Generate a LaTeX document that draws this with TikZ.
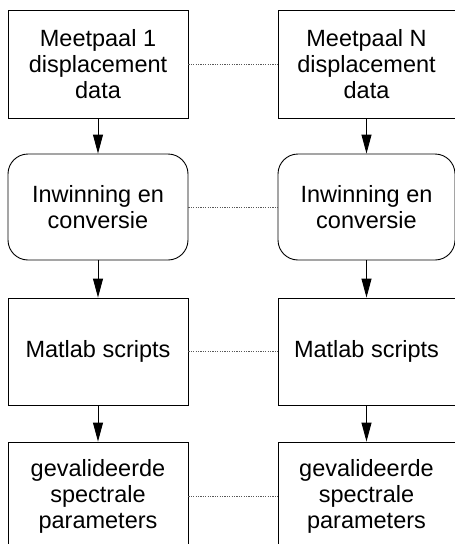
\documentclass[tikz,border=0pt]{standalone}
\usepackage{fontspec}
\setmainfont{Liberation Sans}
\usetikzlibrary{arrows.meta}
\tikzset{
  box/.style={draw, line width=0.9pt, align=center, inner sep=0pt,
    font=\fontsize{23.5}{26}\selectfont},
  rbox/.style={box, rounded corners=20pt},
  flow/.style={line width=0.9pt, -{Triangle[length=19pt,width=10pt]}},
  link/.style={line width=0.7pt, gray!70!black, dash pattern=on 1.2pt off 1.2pt}
}
\begin{document}
\begin{tikzpicture}[x=1pt,y=-1pt]
\useasboundingbox (0,0) rectangle (455,544);
\clip (0,0) rectangle (455,544);
% left column
\node[box, minimum width=180pt, minimum height=108pt] (a1) at (98,64) {Meetpaal 1\\displacement\\data};
\node[rbox, minimum width=180pt, minimum height=106pt] (b1) at (98,207) {Inwinning en\\conversie};
\node[box, minimum width=180pt, minimum height=107pt] (c1) at (98,351.5) {Matlab scripts};
\node[box, minimum width=180pt, minimum height=108pt] (d1) at (98,496) {gevalideerde\\spectrale\\parameters};
% right column
\node[box, minimum width=177pt, minimum height=108pt] (a2) at (366.5,64) {Meetpaal N\\displacement\\data};
\node[rbox, minimum width=177pt, minimum height=106pt] (b2) at (366.5,207) {Inwinning en\\conversie};
\node[box, minimum width=177pt, minimum height=107pt] (c2) at (366.5,351.5) {Matlab scripts};
\node[box, minimum width=177pt, minimum height=108pt] (d2) at (366.5,496) {gevalideerde\\spectrale\\parameters};
% arrows
\draw[flow] (a1) -- (b1);
\draw[flow] (b1) -- (c1);
\draw[flow] (c1) -- (d1);
\draw[flow] (a2) -- (b2);
\draw[flow] (b2) -- (c2);
\draw[flow] (c2) -- (d2);
% dotted links
\draw[link] (a1) -- (a2);
\draw[link] (b1) -- (b2);
\draw[link] (c1) -- (c2);
\draw[link] (d1) -- (d2);
\end{tikzpicture}
\end{document}
